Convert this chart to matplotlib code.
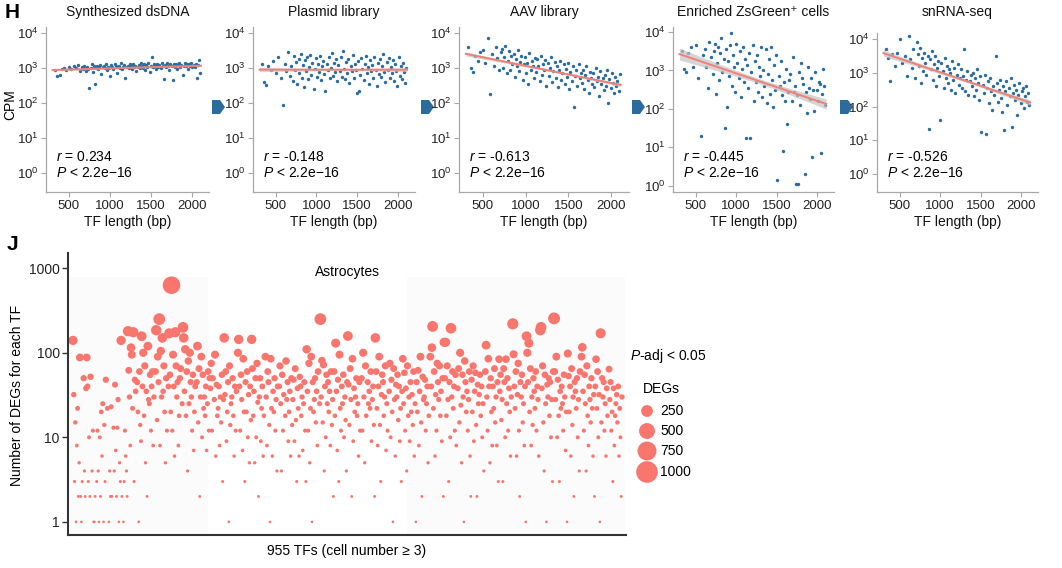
import numpy as np
import matplotlib.pyplot as plt
from matplotlib.patches import Polygon, Rectangle
from matplotlib.ticker import FixedLocator, NullLocator

plt.rcParams['font.family'] = ['Liberation Sans', 'DejaVu Sans']
plt.rcParams['mathtext.fontset'] = 'custom'
plt.rcParams['mathtext.rm'] = 'Liberation Sans'
plt.rcParams['mathtext.it'] = 'Liberation Sans:italic'
plt.rcParams['mathtext.bf'] = 'Liberation Sans:bold'

# ---------------- data (panel H) ----------------
# TF lengths (bp), shared by all five panels
tf_length = [330, 360, 385, 410, 440, 470,
             505, 530, 560, 585, 610, 630, 655, 670, 690, 710,
             725, 738, 750, 764, 779, 790, 805, 818, 830, 846,
             858, 871, 885, 897, 910, 925, 938, 950, 966, 978,
             990, 1004, 1017, 1030, 1044, 1058, 1070, 1083, 1097, 1110,
             1124, 1136, 1150, 1163, 1177, 1190, 1204, 1217, 1230, 1244,
             1257, 1270, 1284, 1297, 1311, 1324, 1338, 1350, 1364, 1377,
             1391, 1404, 1418, 1431, 1444, 1458, 1471, 1485, 1498, 1511,
             1525, 1538, 1552, 1565, 1578, 1592, 1605, 1619, 1632, 1645,
             1659, 1672, 1686, 1699, 1712, 1726, 1739, 1753, 1766, 1780,
             1793, 1806, 1820, 1833, 1847, 1860, 1873, 1887, 1900, 1914,
             1927, 1940, 1954, 1967, 1981, 1994, 2008, 2021, 2035, 2048,
             2062, 2075, 2089, 2102]

# log10(CPM) per stage
log_cpm_dsdna = [2.95, 2.78, 2.80, 2.97, 3.00, 2.93,
                 3.02, 2.96, 3.05, 2.99, 3.08, 2.92, 3.03, 2.98, 3.06, 2.90,
                 3.04, 2.97, 2.42, 3.01, 3.10, 2.88, 3.05, 2.55, 3.00, 3.07,
                 2.96, 3.03, 3.09, 2.82, 3.02, 3.06, 2.99, 3.12, 2.94, 3.04,
                 3.01, 2.78, 3.08, 3.03, 2.97, 3.11, 3.05, 2.85, 3.02, 3.07,
                 3.00, 3.13, 2.96, 3.04, 3.09, 2.72, 3.03, 3.06, 3.00, 3.10,
                 3.05, 2.98, 3.12, 3.02, 3.07, 2.90, 3.04, 3.09, 3.01, 3.14,
                 3.06, 3.00, 3.11, 2.95, 3.08, 3.03, 3.13, 2.88, 3.06, 3.30,
                 3.02, 3.10, 3.07, 2.97, 3.12, 3.04, 3.09, 3.00, 3.15, 3.06,
                 2.68, 3.08, 3.03, 3.13, 3.05, 2.93, 3.10, 3.06, 2.65, 3.11,
                 3.04, 3.12, 2.98, 3.08, 3.14, 3.02, 3.09, 2.80, 3.07, 3.13,
                 3.05, 3.10, 2.97, 3.12, 3.06, 3.15, 3.02, 3.09, 3.04, 3.11,
                 2.72, 3.08, 3.24, 2.87]

log_cpm_plasmid = [3.12, 2.60, 2.52, 3.05, 2.95, 3.20,
                   2.85, 3.30, 2.70, 1.95, 3.10, 2.90, 3.45, 2.78, 3.05, 2.62,
                   3.35, 2.95, 3.18, 2.55, 3.25, 2.85, 3.40, 2.72, 3.08, 2.45,
                   3.22, 2.92, 3.30, 2.68, 3.02, 3.38, 2.80, 3.15, 2.40, 2.98,
                   3.28, 2.75, 3.10, 2.88, 3.35, 2.65, 3.05, 3.20, 2.82, 2.35,
                   3.12, 2.95, 3.30, 2.70, 3.00, 3.42, 2.78, 3.15, 2.88, 3.25,
                   2.62, 3.08, 2.92, 3.32, 2.75, 3.48, 2.98, 2.68, 3.18, 2.85,
                   3.25, 2.58, 3.05, 2.90, 3.38, 2.72, 3.12, 2.95, 2.30, 3.20,
                   2.35, 2.80, 3.28, 2.98, 2.65, 3.10, 3.35, 2.85, 3.02, 2.55,
                   3.22, 2.90, 3.08, 2.70, 3.30, 2.95, 2.48, 3.15, 2.82, 3.25,
                   2.75, 3.05, 3.40, 2.88, 2.60, 3.18, 2.95, 3.28, 2.70, 3.02,
                   2.85, 3.22, 2.62, 3.10, 2.92, 2.50, 3.30, 2.78, 3.05, 2.68,
                   3.15, 2.88, 2.58, 3.00]

log_cpm_aav = [3.60, 3.00, 2.88, 3.35, 3.20, 3.45,
               3.50, 3.15, 3.85, 2.25, 3.40, 3.05, 3.60, 3.28, 2.95, 3.45,
               3.55, 3.00, 3.30, 3.62, 2.85, 3.20, 3.48, 2.95, 3.35, 3.10,
               3.40, 2.75, 3.25, 3.05, 3.50, 2.90, 3.18, 3.35, 2.65, 3.10,
               3.30, 2.85, 3.15, 2.55, 3.42, 2.95, 3.20, 3.05, 2.70, 3.28,
               2.88, 3.25, 3.05, 2.62, 3.35, 2.80, 3.10, 2.95, 3.22, 2.50,
               3.15, 2.78, 3.00, 3.30, 2.60, 2.92, 3.18, 2.70, 3.05, 2.45,
               2.95, 3.20, 2.65, 2.85, 3.10, 2.55, 2.98, 2.75, 3.15, 2.40,
               2.88, 2.62, 3.05, 1.90, 2.78, 2.95, 2.50, 3.12, 2.70, 2.85,
               2.58, 2.95, 2.40, 2.80, 3.05, 2.65, 2.30, 2.88, 2.72, 2.55,
               2.85, 2.45, 3.00, 2.62, 2.75, 2.20, 2.90, 2.55, 2.70, 2.38,
               2.80, 2.50, 2.95, 2.00, 2.68, 2.42, 2.85, 2.58, 2.30, 2.75,
               2.48, 2.62, 2.35, 2.82]

log_cpm_zsgreen = [3.50, 3.05, 2.95, 3.45, 3.60, 3.10,
                   3.65, 2.80, 1.30, 3.40, 3.55, 3.10, 2.55, 3.75, 3.35, 2.90,
                   3.50, 3.70, 2.40, 3.20, 3.60, 2.75, 3.45, 3.85, 2.95, 3.30,
                   1.50, 3.55, 2.05, 3.25, 2.85, 3.65, 3.98, 2.60, 3.40, 3.10,
                   2.45, 3.70, 3.20, 2.80, 3.50, 2.30, 3.05, 3.60, 2.70, 3.30,
                   1.25, 3.15, 2.55, 3.45, 1.25, 2.95, 3.65, 2.20, 3.25, 2.70,
                   3.40, 2.45, 3.10, 2.85, 3.60, 2.30, 3.00, 2.60, 3.55, 2.15,
                   2.90, 3.30, 2.40, 3.60, 2.75, 2.05, 3.15, 2.50, 3.40, 0.15,
                   2.85, 2.60, 3.25, 2.35, 0.90, 2.70, 2.20, 3.05, 1.60, 2.45,
                   2.75, 2.90, 2.20, 3.35, 2.45, 2.60, 0.05, 2.35, 0.05, 2.95,
                   2.10, 3.20, 2.80, 2.65, 0.30, 2.45, 1.90, 3.10, 2.55, 2.25,
                   2.80, 0.75, 2.50, 1.95, 2.95, 2.50, 2.20, 2.70, 2.65, 0.85,
                   2.40, 3.05, 2.60, 2.10]

log_cpm_snrna = [3.70, 3.45, 2.75, 3.55, 3.20, 3.60,
                 4.00, 3.30, 3.50, 2.90, 4.08, 3.40, 3.15, 3.70, 2.85, 3.90,
                 3.55, 3.20, 3.75, 2.70, 3.45, 3.05, 3.60, 3.30, 2.95, 3.50,
                 1.35, 3.40, 3.10, 3.65, 2.80, 3.25, 3.50, 2.60, 3.15, 3.35,
                 2.90, 1.60, 3.30, 3.05, 2.55, 3.45, 2.85, 3.20, 2.70, 3.10,
                 3.00, 2.50, 3.35, 2.80, 3.15, 2.40, 2.95, 3.25, 2.65, 2.85,
                 3.10, 2.55, 2.90, 3.70, 2.45, 2.80, 3.05, 2.35, 2.75, 2.95,
                 2.60, 3.00, 2.30, 2.85, 2.50, 3.10, 2.70, 2.20, 2.90, 1.25,
                 2.65, 2.40, 2.95, 1.20, 2.55, 2.75, 2.10, 2.85, 2.45, 1.90,
                 2.60, 2.35, 3.50, 2.70, 2.15, 2.50, 2.80, 2.25, 1.85, 2.60,
                 1.30, 2.45, 2.75, 2.05, 2.55, 2.30, 2.85, 1.40, 2.40, 2.65,
                 2.20, 2.50, 1.75, 2.35, 2.70, 2.10, 2.45, 2.55, 1.95, 2.30,
                 2.60, 2.15, 2.40, 2.05]

stage_titles = ['Synthesized dsDNA', 'Plasmid library', 'AAV library',
                'Enriched ZsGreen\u207a cells', 'snRNA-seq']
stage_r = ['0.234', '-0.148', '-0.613', '-0.445', '-0.526']
stage_logcpm = [log_cpm_dsdna, log_cpm_plasmid, log_cpm_aav,
                log_cpm_zsgreen, log_cpm_snrna]

# ---------------- data (panel J) ----------------
tf_total = 955
# number of DEGs per TF, left to right (0 = none, drawn on the axis)
degs_per_tf = [
    140, 32, 3, 15, 1, 8, 22, 2, 5, 88, 2, 1, 3, 0, 50, 4, 2, 38,
    88, 40, 3, 10, 2, 52, 0, 4, 12, 1, 1, 2, 0, 3, 12, 4, 1, 10,
    2, 20, 6, 25, 1, 14, 3, 48, 0, 22, 0, 1, 4, 2, 23, 2, 0, 13,
    4, 42, 7, 2, 13, 28, 1, 5, 3, 140, 2, 0, 1, 3, 12, 6, 4, 2,
    180, 62, 30, 8, 115, 95, 22, 175, 3, 48, 35, 0, 45, 20, 1, 60, 14, 9,
    157, 40, 100, 18, 70, 5, 35, 2, 120, 28, 25, 55, 12, 40, 60, 8, 30, 0,
    60, 185, 16, 90, 45, 250, 8, 105, 30, 150, 35, 70, 20, 5, 50, 12, 0, 40,
    170, 55, 20, 630, 12, 95, 40, 6, 175, 70, 30, 45, 8, 18, 50, 65, 0, 25,
    200, 150, 35, 110, 18, 60, 4, 80, 25, 100, 45, 30, 12, 55, 7, 20, 40, 0,
    45, 120, 15, 65, 2, 30, 90, 10, 55, 22, 30, 18, 40, 7, 25, 60, 12, 50,
    38, 75, 12, 50, 0, 28, 95, 6, 42, 18, 22, 40, 8, 30, 15, 55, 3, 28,
    150, 32, 60, 9, 20, 45, 1, 70, 14, 25, 30, 50, 18, 6, 40, 12, 35, 0,
    100, 144, 40, 12, 55, 28, 7, 85, 20, 3, 45, 20, 60, 10, 32, 5, 40, 16,
    144, 65, 18, 35, 5, 50, 10, 75, 26, 2, 30, 50, 9, 22, 40, 6, 18, 0,
    90, 30, 8, 60, 45, 14, 1, 85, 22, 6, 35, 20, 50, 12, 28, 4, 40, 0,
    40, 70, 25, 4, 55, 12, 32, 0, 18, 80, 28, 45, 9, 20, 35, 6, 50, 14,
    28, 48, 9, 65, 16, 3, 38, 22, 6, 52, 40, 18, 30, 7, 25, 45, 12, 3,
    110, 35, 12, 75, 5, 22, 90, 1, 45, 20, 28, 50, 15, 35, 8, 60, 0, 25,
    250, 30, 81, 15, 72, 4, 40, 10, 55, 25, 45, 20, 35, 8, 60, 14, 28, 2,
    60, 18, 130, 35, 7, 48, 3, 95, 22, 12, 40, 25, 55, 10, 30, 16, 4, 45,
    158, 42, 14, 65, 28, 2, 85, 9, 38, 20, 30, 50, 18, 25, 6, 45, 12, 0,
    50, 12, 100, 30, 5, 70, 18, 0, 45, 25, 35, 22, 60, 9, 28, 40, 14, 2,
    150, 60, 22, 8, 40, 90, 14, 3, 32, 55, 45, 18, 30, 70, 7, 25, 12, 0,
    35, 75, 10, 48, 20, 1, 65, 28, 6, 42, 30, 55, 16, 40, 9, 22, 3, 35,
    85, 25, 58, 12, 38, 4, 70, 18, 30, 9, 45, 20, 32, 14, 60, 6, 25, 1,
    45, 20, 62, 8, 35, 90, 15, 2, 52, 28, 30, 48, 12, 25, 40, 5, 18, 0,
    90, 40, 115, 205, 22, 60, 6, 32, 12, 75, 45, 28, 70, 18, 35, 9, 50, 2,
    133, 50, 133, 18, 70, 28, 3, 45, 10, 195, 30, 60, 22, 40, 12, 55, 8, 0,
    38, 65, 15, 100, 24, 5, 55, 30, 1, 80, 45, 20, 35, 12, 28, 60, 6, 2,
    48, 20, 70, 9, 35, 58, 14, 2, 42, 25, 32, 55, 18, 40, 10, 25, 4, 0,
    60, 123, 30, 12, 85, 40, 5, 50, 20, 8, 40, 22, 65, 15, 30, 8, 45, 3,
    84, 35, 55, 16, 28, 3, 65, 45, 10, 84, 25, 50, 12, 38, 20, 6, 30, 0,
    220, 96, 40, 22, 60, 6, 32, 75, 12, 2, 45, 30, 55, 15, 25, 8, 40, 1,
    157, 100, 45, 130, 20, 65, 8, 30, 14, 50, 35, 22, 60, 12, 40, 28, 6, 0,
    185, 200, 38, 70, 15, 4, 55, 25, 1, 42, 30, 50, 18, 45, 10, 28, 3, 60,
    255, 60, 28, 90, 10, 48, 18, 3, 35, 22, 40, 25, 12, 55, 30, 7, 20, 1,
    98, 53, 20, 40, 6, 65, 14, 30, 2, 45, 35, 22, 50, 10, 28, 4, 60, 0,
    90, 116, 35, 12, 55, 25, 4, 70, 18, 8, 40, 28, 15, 50, 22, 6, 32, 2,
    40, 84, 22, 60, 10, 32, 1, 170, 15, 50, 30, 45, 12, 25, 6, 38, 18, 0,
    64, 28, 45, 12, 20, 3, 38, 8, 18, 25, 32, 15, 40, 6, 22, 10, 2, 30,
]
legend_degs = [250, 500, 750, 1000]

# ---------------- figure ----------------
W, H = 1062, 568
fig = plt.figure(figsize=(W / 100, H / 100), dpi=100)


def px_axes(l, t, r, b):
    return fig.add_axes([l / W, 1 - b / H, (r - l) / W, (b - t) / H])


def deg_size(v):
    d = 2.0 + 0.62 * np.sqrt(np.asarray(v, dtype=float))
    return (d * 0.72) ** 2


# overlay in pixel coordinates for labels, arrows, legend
bg = fig.add_axes([0, 0, 1, 1], zorder=0)
bg.set_xlim(0, W)
bg.set_ylim(H, 0)
bg.axis('off')

blue = '#2c6c9c'
red_line = '#f08078'
grey = '#a8a8a8'

boxes = [(46, 27, 209, 192), (253, 27, 415, 192), (459, 27, 629, 192),
         (673, 27, 834, 192), (877, 33, 1038, 192)]
ylims = [(-0.54, 4.17), (-0.54, 4.17), (-0.54, 4.17), (-0.16, 4.13), (-0.53, 4.18)]

x = np.array(tf_length, dtype=float)
for i in range(5):
    l, t, r, b = boxes[i]
    ax = px_axes(l, t, r, b)
    ax.set_zorder(1)
    ax.set_facecolor('none')
    ly = np.array(stage_logcpm[i])
    ax.scatter(x, 10 ** ly, s=6, color=blue, linewidths=0, zorder=2)

    # linear fit in log space with standard-error band
    k, c = np.polyfit(x, ly, 1)
    xs = np.linspace(x.min() - 30, x.max() + 10, 100)
    fit = k * xs + c
    resid = ly - (k * x + c)
    s_err = np.sqrt(np.sum(resid ** 2) / (len(x) - 2))
    se = s_err * np.sqrt(1 / len(x) + (xs - x.mean()) ** 2 / np.sum((x - x.mean()) ** 2))
    ax.fill_between(xs, 10 ** (fit - se), 10 ** (fit + se),
                    color='#c4c4c4', alpha=0.7, linewidth=0, zorder=3)
    ax.plot(xs, 10 ** fit, color=red_line, lw=1.4, zorder=4)

    ax.set_yscale('log')
    ax.set_ylim(10 ** ylims[i][0], 10 ** ylims[i][1])
    ax.set_xlim(220, 2210)
    ax.yaxis.set_major_locator(FixedLocator([1, 10, 100, 1000, 10000]))
    ax.yaxis.set_minor_locator(NullLocator())
    ax.set_xticks([500, 1000, 1500, 2000])
    for s in ['top', 'right']:
        ax.spines[s].set_visible(False)
    for s in ['left', 'bottom']:
        ax.spines[s].set_color(grey)
        ax.spines[s].set_linewidth(0.9)
    ax.tick_params(colors=grey, labelcolor='#222222', labelsize=9.5,
                   length=3.5, width=0.8, pad=2)

    cx = (l + r) / 2
    bg.text(cx, 12, stage_titles[i], ha='center', va='center', fontsize=10, color='#111111')
    bg.text(cx, 222, 'TF length (bp)', ha='center', va='center', fontsize=10, color='#111111')
    bg.text(l + 10, 157, '$\\it{r}$ = ' + stage_r[i], ha='left', va='center', fontsize=10)
    bg.text(l + 10, 173, '$\\it{P}$ < 2.2e\u221216', ha='left', va='center', fontsize=10)

# arrows between stages
for x0 in [212, 421, 632, 840]:
    yc = 107
    bg.add_patch(Polygon([(x0, yc - 7), (x0 + 8, yc - 7), (x0 + 13, yc),
                          (x0 + 8, yc + 7), (x0, yc + 7)],
                         closed=True, facecolor=blue, edgecolor='none'))

bg.text(12, 12, 'H', ha='center', va='center', fontsize=15, fontweight='bold')
bg.text(10, 105, 'CPM', ha='center', va='center', rotation=90, fontsize=10)

# ---------------- panel J ----------------
bg.add_patch(Rectangle((70, 277), 138, 258, facecolor='#fbfbfb', edgecolor='none'))
bg.add_patch(Rectangle((407, 277), 218, 258, facecolor='#fbfbfb', edgecolor='none'))

axj = px_axes(68, 253, 626, 535)
axj.set_zorder(1)
axj.set_facecolor('none')
deg = np.array(degs_per_tf, dtype=float)
n = len(deg)
idx = np.arange(n)
ybot = 0.7
yj = np.where(deg == 0, ybot, deg)
axj.scatter(idx, yj, s=deg_size(deg), color='#F8766D', linewidths=0,
            clip_on=False, zorder=1)
axj.set_yscale('log')
axj.set_ylim(ybot, 10 ** 3.18)
axj.set_xlim(-5 / 549 * (n - 1), (n - 1) * (1 + 4 / 549))
axj.yaxis.set_major_locator(FixedLocator([1, 10, 100, 1000]))
axj.yaxis.set_minor_locator(NullLocator())
axj.set_yticklabels(['1', '10', '100', '1000'])
axj.set_xticks([])
for s in ['top', 'right']:
    axj.spines[s].set_visible(False)
for s in ['left', 'bottom']:
    axj.spines[s].set_color('#333333')
    axj.spines[s].set_linewidth(1.5)
axj.tick_params(axis='y', colors='#333333', labelcolor='#222222', labelsize=10,
                length=4, width=1, pad=2)

bg.text(12, 245, 'J', ha='center', va='center', fontsize=15, fontweight='bold')
bg.text(347, 272, 'Astrocytes', ha='center', va='center', fontsize=10)
bg.text(17, 395, 'Number of DEGs for each TF', ha='center', va='center',
        rotation=90, fontsize=10)
bg.text(347, 551, '%d TFs (cell number \u2265 3)' % tf_total, ha='center',
        va='center', fontsize=10)

# size legend
bg.text(630, 356, '$\\it{P}$-adj < 0.05', ha='left', va='center', fontsize=10)
bg.text(643, 389, 'DEGs', ha='left', va='center', fontsize=10)
leg_y = [411, 431, 451, 472]
bg.scatter([647] * len(legend_degs), leg_y, s=deg_size(legend_degs),
           color='#F8766D', linewidths=0)
for yy, v in zip(leg_y, legend_degs):
    bg.text(660, yy, str(v), ha='left', va='center', fontsize=10)

fig.savefig('out.png', dpi=100)
